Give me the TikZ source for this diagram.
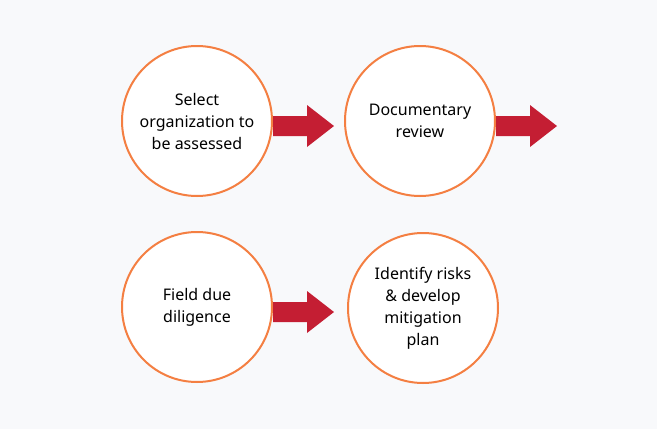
\documentclass[tikz,border=0pt]{standalone}
\usepackage{fontspec}
\setmainfont{Noto Sans}
\definecolor{bgcol}{HTML}{F8F9FB}
\definecolor{ringcol}{HTML}{F47F42}
\definecolor{arrowred}{HTML}{C41E33}
\tikzset{
  stage/.style={circle, draw=ringcol, line width=2pt, fill=white,
    minimum size=150pt, inner sep=0pt, align=center,
    font=\fontsize{16}{22}\selectfont},
}
\begin{document}
\begin{tikzpicture}[x=1pt, y=-1pt]
  \fill[bgcol] (0,0) rectangle (657,429);
  \useasboundingbox (0,0) rectangle (657,429);

  \node[stage] (select) at (197,121) {Select\\organization to\\be assessed};
  \node[stage] (docrev) at (420,121) {Documentary\\review};
  \node[stage] (field) at (197,307) {Field due\\diligence};
  \node[stage] (risks) at (423,308) {Identify risks\\\& develop\\mitigation\\plan};

  % block arrows out of the first three stages
  \foreach \c in {select, docrev, field}
    \fill[arrowred, shift={(\c.east)}, yshift=-5pt]
      (0,-10) -- (34,-10) -- (34,-21) -- (61,0) -- (34,21) -- (34,10) -- (0,10) -- cycle;
\end{tikzpicture}
\end{document}
